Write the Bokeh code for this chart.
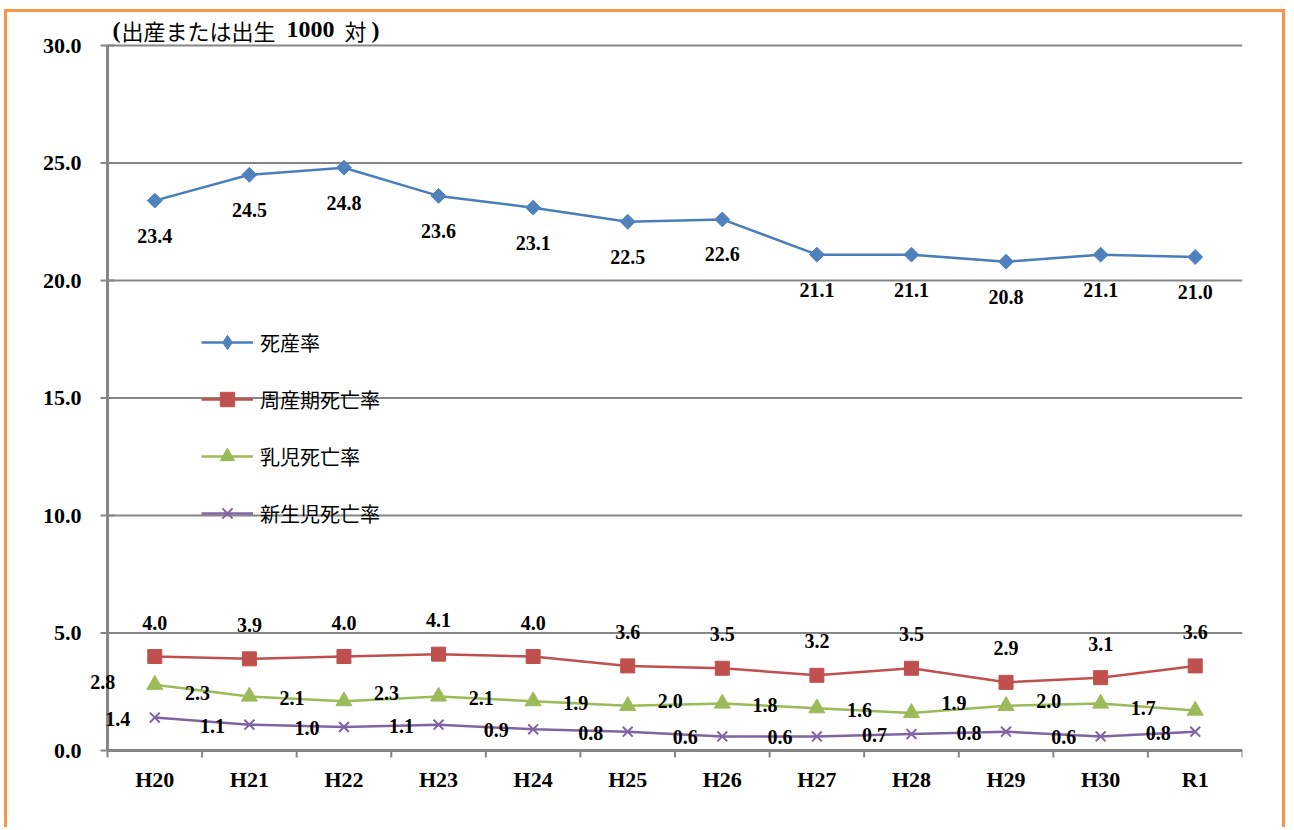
import math
from bokeh.plotting import figure
from bokeh.models import ColumnDataSource, LabelSet, Range1d, Legend, LegendItem
from bokeh.core.properties import value
from bokeh.embed import file_html
from bokeh.resources import INLINE

categories = ["H20", "H21", "H22", "H23", "H24", "H25", "H26", "H27", "H28", "H29", "H30", "R1"]
stillbirth = [23.4, 24.5, 24.8, 23.6, 23.1, 22.5, 22.6, 21.1, 21.1, 20.8, 21.1, 21.0]
perinatal = [4.0, 3.9, 4.0, 4.1, 4.0, 3.6, 3.5, 3.2, 3.5, 2.9, 3.1, 3.6]
infant = [2.8, 2.3, 2.1, 2.3, 2.1, 1.9, 2.0, 1.8, 1.6, 1.9, 2.0, 1.7]
neonatal = [1.4, 1.1, 1.0, 1.1, 0.9, 0.8, 0.6, 0.6, 0.7, 0.8, 0.6, 0.8]
series_names = ["死産率", "周産期死亡率", "乳児死亡率", "新生児死亡率"]
y_ticks = [0, 5, 10, 15, 20, 25, 30]
# unit label "(出産または出生 1000 対)" split by font
unit_parts = ["(", "出産または出生", "1000", "対", ")"]

SERIF = "Liberation Serif"
CJK = "Noto Sans CJK JP"
GRID = "#868686"

n = len(categories)
xs = list(range(n))
x_lo, x_hi = -0.5, n - 0.5
y_lo, y_top = y_ticks[0], y_ticks[-1]

# ---- layout (pixels) ----
BORDER = 3
MARGIN_L, MARGIN_T = 4, 9
CONTENT_LEFT = MARGIN_L + BORDER          # 7
CONTENT_TOP = MARGIN_T + BORDER           # 12
CONTENT_RIGHT = 1288
CONTENT_BOTTOM = 830
FIG_W = CONTENT_RIGHT - CONTENT_LEFT
FIG_H = CONTENT_BOTTOM - CONTENT_TOP
FRAME_L, FRAME_R, FRAME_T, FRAME_B = 30, 1242, 12, 812
AXIS_X, AXIS_Y, GRID_TOP = 107, 750, 45   # plot-area edges
TICK = 7

px_x = (FRAME_R - AXIS_X) / (x_hi - x_lo)
px_y = (AXIS_Y - GRID_TOP) / (y_top - y_lo)
x_start = x_lo - (AXIS_X - FRAME_L) / px_x
y_start = y_lo - (FRAME_B - AXIS_Y) / px_y
y_end = y_top + (GRID_TOP - FRAME_T) / px_y

p = figure(width=FIG_W, height=FIG_H, title=None,
           x_range=Range1d(x_start, x_hi), y_range=Range1d(y_start, y_end),
           output_backend="svg", toolbar_location=None,
           x_axis_location=None, y_axis_location=None,
           min_border_left=FRAME_L - CONTENT_LEFT,
           min_border_right=CONTENT_RIGHT - FRAME_R,
           min_border_top=FRAME_T - CONTENT_TOP,
           min_border_bottom=CONTENT_BOTTOM - FRAME_B)
bd = f"{BORDER}px solid #F79646"
p.styles = {"border-left": bd, "border-top": bd, "border-right": bd,
            "margin": f"{MARGIN_T}px 0px 0px {MARGIN_L}px"}
p.outline_line_color = None
p.background_fill_color = "white"
p.border_fill_color = "white"
p.xgrid.visible = False
p.ygrid.visible = False

# horizontal gridlines
m = len(y_ticks) - 1
p.segment(x0=[x_lo] * m, x1=[x_hi] * m, y0=y_ticks[1:], y1=y_ticks[1:],
          line_color=GRID, line_width=2, level="underlay")

# y axis (line, ticks, labels)
p.segment(x0=[x_lo], x1=[x_lo], y0=[y_lo], y1=[y_top], line_color=GRID, line_width=3)
p.scatter(x=[x_lo] * len(y_ticks), y=y_ticks, marker="dash", size=2 * TICK,
          line_color=GRID, line_width=2)
ysrc = ColumnDataSource(dict(x=[x_lo] * len(y_ticks), y=y_ticks,
                             t=[f"{v:.1f}" for v in y_ticks]))
p.add_layout(LabelSet(x="x", y="y", text="t", source=ysrc, x_offset=-26, y_offset=0,
                      text_align="right", text_baseline="middle",
                      text_font=value(SERIF), text_font_style="bold",
                      text_font_size=value("22px"), text_color="black"))

# x axis (line, category boundary ticks, labels)
bounds = [i - 0.5 for i in range(n + 1)]
p.segment(x0=[x_lo], x1=[x_hi], y0=[y_lo], y1=[y_lo], line_color=GRID, line_width=3)
p.segment(x0=bounds, x1=bounds, y0=[y_lo] * len(bounds),
          y1=[y_lo - TICK / px_y] * len(bounds), line_color=GRID, line_width=2)
xsrc = ColumnDataSource(dict(x=xs, y=[y_lo] * n, t=categories))
p.add_layout(LabelSet(x="x", y="y", text="t", source=xsrc, y_offset=-29,
                      text_align="center", text_baseline="middle",
                      text_font=value(SERIF), text_font_style="bold",
                      text_font_size=value("22px"), text_color="black"))

# unit label at top: serif-bold pieces and Japanese pieces
part_fonts = [(SERIF, "bold", "24px"), (CJK, "normal", "22px"), (SERIF, "bold", "24px"),
              (CJK, "normal", "22px"), (SERIF, "bold", "24px")]
part_offsets = [5, 14, 179, 237, 264]
for txt, (fnt, sty, fsz), xo in zip(unit_parts, part_fonts, part_offsets):
    tsrc = ColumnDataSource(dict(x=[x_lo], y=[y_top], t=[txt]))
    p.add_layout(LabelSet(x="x", y="y", text="t", source=tsrc, x_offset=xo, y_offset=16,
                          text_align="left", text_baseline="middle",
                          text_font=value(fnt), text_font_style=sty,
                          text_font_size=value(fsz), text_color="black"))

styles = [
    (stillbirth, "#4A7EBB", "#4F81BD", "square", 10.5, math.pi / 4, 0, -35, "diamond"),
    (perinatal, "#C0504D", "#C0504D", "square", 14, 0, 0, 34, None),
    (infant, "#9BBB59", "#9BBB59", "triangle", 16, 0, -52, 3, None),
    (neonatal, "#8064A2", "#8064A2", "x", 14, 0, -37, -1, None),
]

items = []
for name, (vals, lc, mc, marker, size, ang, xo, yo, lmark) in zip(series_names, styles):
    src = ColumnDataSource(dict(x=xs, y=vals, t=[f"{v:.1f}" for v in vals]))
    lr = p.line("x", "y", source=src, line_color=lc, line_width=2.5)
    sr_leg = None
    if lmark is not None:
        # diamond drawn underneath the rotated squares; used for the legend swatch
        sr_leg = p.scatter("x", "y", source=src, marker=lmark, size=12,
                           fill_color=mc, line_color=mc)
    sr = p.scatter("x", "y", source=src, marker=marker, size=size, angle=ang,
                   fill_color=mc, line_color=mc, line_width=2 if marker == "x" else 1)
    items.append(LegendItem(label=name, renderers=[lr, sr_leg or sr]))
    p.add_layout(LabelSet(x="x", y="y", text="t", source=src, x_offset=xo, y_offset=yo,
                          text_align="center", text_baseline="middle",
                          text_font=value(SERIF), text_font_style="bold",
                          text_font_size=value("20px"), text_color="black"))

lg = Legend(items=items, location=(201 - FRAME_L, 219 + FRAME_B - AXIS_Y))
lg.border_line_color = None
lg.background_fill_alpha = 0
lg.padding = 0
lg.margin = 0
lg.spacing = 21
lg.glyph_width = 52
lg.glyph_height = 36
lg.label_height = 36
lg.label_standoff = 7
lg.label_text_font = CJK
lg.label_text_font_size = "20px"
lg.label_text_color = "black"
p.add_layout(lg, "center")

open("out.html", "w").write(file_html(p, INLINE))
